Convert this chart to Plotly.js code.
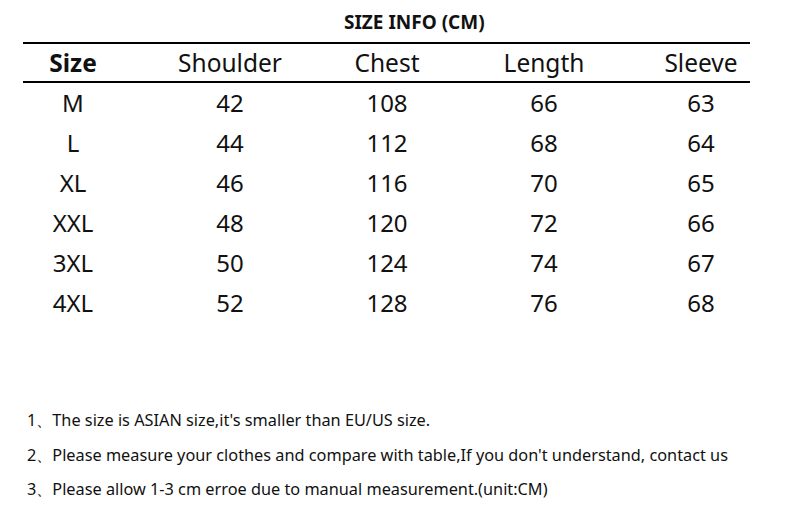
<!DOCTYPE html>
<html>
<head>
<meta charset="utf-8">
<script src="https://cdn.plot.ly/plotly-3.0.1.min.js"></script>
<style>html,body{margin:0;padding:0;background:#fff;}#chart{width:786px;height:521px;}</style>
</head>
<body>
<div id="chart"></div>
<script>
const title = "SIZE INFO (CM)";
const headers = ["Size", "Shoulder", "Chest", "Length", "Sleeve"];
const sizes = ["M", "L", "XL", "XXL", "3XL", "4XL"];
const shoulder = [42, 44, 46, 48, 50, 52];
const chest = [108, 112, 116, 120, 124, 128];
const length = [66, 68, 70, 72, 74, 76];
const sleeve = [63, 64, 65, 66, 67, 68];
const notes = [
  "1、The size is ASIAN size,it's smaller than EU/US size.",
  "2、Please measure your clothes and compare with table,If you don't understand, contact us",
  "3、Please allow 1-3 cm erroe due to manual measurement.(unit:CM)"
];

const FONT = "Noto Sans, Open Sans, DejaVu Sans, sans-serif";
const columns = [sizes, shoulder, chest, length, sleeve];

const traces = [];
// header row
traces.push({
  type: "scatter", mode: "text",
  x: headers.map((_, i) => i),
  y: headers.map(() => 0),
  text: headers.map((h, i) => i === 0 ? "<b>" + h + "</b>" : h),
  textposition: "middle center",
  textfont: {family: FONT, size: 24.5, color: "#111"},
  hoverinfo: "skip", showlegend: false, cliponaxis: false
});
// body cells
columns.forEach((col, ci) => {
  traces.push({
    type: "scatter", mode: "text",
    x: col.map(() => ci),
    y: col.map((_, ri) => ri + 1),
    text: col.map(v => String(v)),
    textposition: "middle center",
    textfont: {family: FONT, size: 24, color: "#111"},
    hoverinfo: "skip", showlegend: false, cliponaxis: false
  });
});

const annotations = notes.map((t, i) => ({
  xref: "paper", yref: "paper",
  x: 25 / 786, y: 1 - (420 + i * 34.5) / 521,
  xanchor: "left", yanchor: "middle",
  text: t, showarrow: false,
  font: {family: FONT, size: 16.3, color: "#111"}
}));
annotations.push({
  xref: "paper", yref: "paper",
  x: 414 / 786, y: 1 - 22 / 521,
  xanchor: "center", yanchor: "middle",
  text: "<b>" + title + "</b>", showarrow: false,
  font: {family: FONT, size: 19, color: "#111"}
});

const lineY = [43, 82];
const shapes = lineY.map(p => ({
  type: "line", xref: "paper", yref: "paper",
  x0: 23 / 786, x1: 750 / 786,
  y0: 1 - p / 521, y1: 1 - p / 521,
  line: {color: "#000", width: 2}
}));

const layout = {
  width: 786, height: 521,
  margin: {l: 0, r: 0, t: 0, b: 0},
  paper_bgcolor: "#fff", plot_bgcolor: "#fff",
  xaxis: {range: [-73 / 157, -73 / 157 + 786 / 157], visible: false, fixedrange: true},
  yaxis: {range: [-66 / 40 + 521 / 40, -66 / 40], visible: false, fixedrange: true},
  annotations: annotations,
  shapes: shapes,
  showlegend: false
};

Plotly.newPlot("chart", traces, layout, {displayModeBar: false, staticPlot: true});
</script>
</body>
</html>
